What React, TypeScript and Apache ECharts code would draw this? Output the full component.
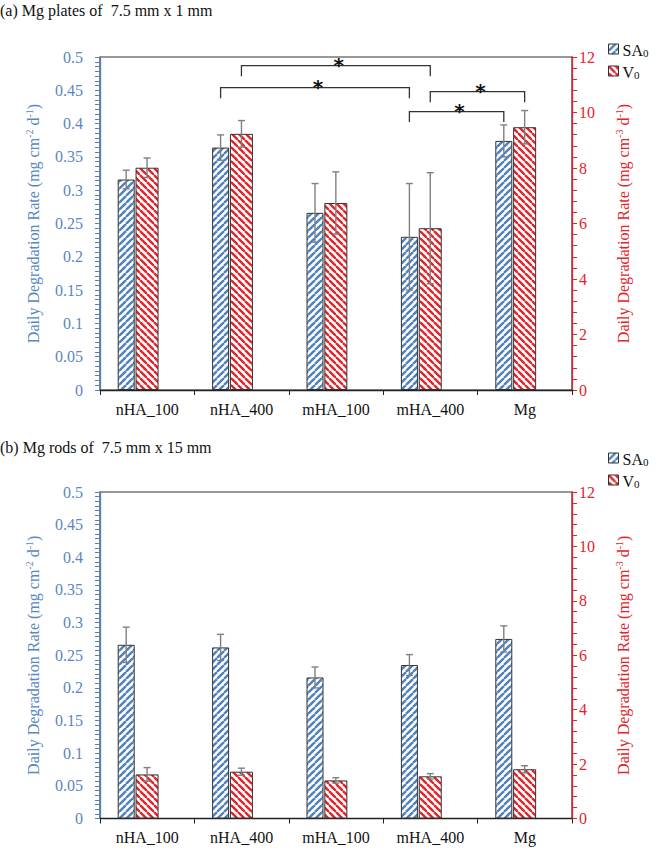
import React, { useEffect, useRef } from "react";
import * as echarts from "echarts";

// ---------- data ----------
const categories = ["nHA_100", "nHA_400", "mHA_100", "mHA_400", "Mg"];

// (a) Mg plates 7.5 mm x 1 mm
const plateSA = [0.316, 0.364, 0.266, 0.23, 0.374];
const plateSAErr = [0.014, 0.019, 0.044, 0.08, 0.024];
const plateV = [8.01, 9.23, 6.74, 5.83, 9.47];
const plateVErr = [0.35, 0.48, 1.12, 2.0, 0.6];

// (b) Mg rods 7.5 mm x 15 mm
const rodSA = [0.266, 0.262, 0.216, 0.235, 0.275];
const rodSAErr = [0.027, 0.02, 0.016, 0.016, 0.02];
const rodV = [1.62, 1.72, 1.4, 1.55, 1.81];
const rodVErr = [0.25, 0.13, 0.1, 0.1, 0.13];

// significance brackets in (a): [fromCategory, fromSeries (0 = SA0, 1 = V0), toCategory, toSeries, level on left axis]
const plateBrackets = [
  [1, 1, 3, 1, 0.487],
  [1, 0, 3, 0, 0.454],
  [3, 1, 4, 1, 0.448],
  [3, 0, 4, 0, 0.418],
];

const titleA = "(a) Mg plates of  7.5 mm x 1 mm";
const titleB = "(b) Mg rods of  7.5 mm x 15 mm";

// ---------- style ----------
const SERIF = "'Liberation Serif', 'Times New Roman', serif";
const BLUE = "#4F81BD";
const BLUE_TEXT = "#5A87C0";
const RED = "#E3242B";
const SA_W = 17;
const V_W = 23;
const GHOST_W = 17;
const GAP = 0.05;
const TOTAL = SA_W * (1 + GAP) + V_W * (1 + GAP) + GHOST_W;
const SA_OFF = -TOTAL / 2 + SA_W / 2;
const V_OFF = -TOTAL / 2 + SA_W * (1 + GAP) + V_W / 2;

function stripe(color: string, dir: number) {
  const s = 7;
  const c = document.createElement("canvas");
  c.width = s;
  c.height = s;
  const ctx = c.getContext("2d")!;
  ctx.fillStyle = "#fff";
  ctx.fillRect(0, 0, s, s);
  ctx.strokeStyle = color;
  ctx.lineWidth = 2.4;
  for (const k of [-s, 0, s]) {
    ctx.beginPath();
    if (dir === 1) {
      ctx.moveTo(k, s);
      ctx.lineTo(k + s, 0);
    } else {
      ctx.moveTo(k, 0);
      ctx.lineTo(k + s, s);
    }
    ctx.stroke();
  }
  return { image: c.toDataURL(), repeat: "repeat", imageWidth: s, imageHeight: s } as any;
}

const nameRich = (color: string) => ({
  color,
  fontSize: 16,
  fontFamily: SERIF,
  rich: {
    a: { color, fontSize: 16, fontFamily: SERIF, lineHeight: 18 },
    sup: { color, fontSize: 10, fontFamily: SERIF, lineHeight: 8, verticalAlign: "top" },
  },
});
const AXIS_NAME_L = "{a|Daily Degradation Rate (mg cm}{sup|-2}{a| d}{sup|-1}{a|)}";
const AXIS_NAME_R = "{a|Daily Degradation Rate (mg cm}{sup|-3}{a| d}{sup|-1}{a|)}";

export default function App() {
  const ref = useRef<HTMLDivElement>(null);
  useEffect(() => {
    if (!ref.current) return;
    const chart = echarts.init(ref.current, null, { renderer: "svg" });
    const bluePat = stripe(BLUE, 1);
    const redPat = stripe(RED, -1);

    const grids = [
      { left: 100, right: 90, top: 57, height: 333 },
      { left: 100, right: 90, top: 492, height: 326.5 },
    ].map((g) => ({ ...g, show: true, borderColor: "#333", borderWidth: 1.2 }));

    const xAxes = [0, 1].map((gi) => ({
      type: "category",
      gridIndex: gi,
      data: categories,
      axisLine: { lineStyle: { color: "#222", width: 1.3 } },
      axisTick: { show: true, length: 5, alignWithLabel: false, lineStyle: { color: "#222" } },
      axisLabel: { color: "#111", fontSize: 16, fontFamily: SERIF, margin: 11 },
    }));

    const leftAxis = (gi: number) => ({
      type: "value",
      gridIndex: gi,
      position: "left",
      min: 0,
      max: 0.5,
      interval: 0.05,
      axisLine: { show: true, lineStyle: { color: BLUE, width: 1.3 } },
      axisTick: { show: true, length: 5, lineStyle: { color: BLUE } },
      minorTick: { show: true, splitNumber: 7, length: 5, lineStyle: { color: BLUE } },
      splitLine: { show: false },
      axisLabel: { color: BLUE_TEXT, fontSize: 16, fontFamily: SERIF, margin: 17 },
      name: AXIS_NAME_L,
      nameLocation: "middle",
      nameRotate: 90,
      nameGap: 58,
      nameTextStyle: nameRich(BLUE_TEXT),
    });
    const rightAxis = (gi: number) => ({
      type: "value",
      gridIndex: gi,
      position: "right",
      min: 0,
      max: 12,
      interval: 2,
      axisLine: { show: true, lineStyle: { color: RED, width: 1.3 } },
      axisTick: { show: true, length: 5, lineStyle: { color: RED } },
      minorTick: { show: true, splitNumber: 5, length: 5, lineStyle: { color: RED } },
      splitLine: { show: false },
      axisLabel: { color: RED, fontSize: 16, fontFamily: SERIF, margin: 7 },
      name: AXIS_NAME_R,
      nameLocation: "middle",
      nameRotate: 90,
      nameGap: 42,
      nameTextStyle: nameRich(RED),
    });

    const barStyle = (pat: any) => ({ color: pat, borderColor: "#333", borderWidth: 1 });

    const errSeries = (xi: number, yi: number, vals: number[], errs: number[], off: number) => ({
      type: "custom",
      xAxisIndex: xi,
      yAxisIndex: yi,
      z: 5,
      silent: true,
      clip: false,
      encode: { x: 0, y: 1 },
      data: vals.map((v, i) => [i, v, errs[i]]),
      renderItem: (params: any, api: any) => {
        const c = api.value(0);
        const v = api.value(1);
        const e = api.value(2);
        const top = api.coord([c, v + e]);
        const bot = api.coord([c, v - e]);
        const x = top[0] + off;
        const st = { stroke: "#808080", lineWidth: 1.4 };
        return {
          type: "group",
          children: [
            { type: "line", shape: { x1: x, y1: top[1], x2: x, y2: bot[1] }, style: st },
            { type: "line", shape: { x1: x - 3.5, y1: top[1], x2: x + 3.5, y2: top[1] }, style: st },
            { type: "line", shape: { x1: x - 3.5, y1: bot[1], x2: x + 3.5, y2: bot[1] }, style: st },
          ],
        };
      },
    });

    const barsFor = (xi: number, yl: number, yr: number, sa: number[], v: number[]) => [
      {
        name: "SA0",
        type: "bar",
        xAxisIndex: xi,
        yAxisIndex: yl,
        barWidth: SA_W,
        barGap: "5%",
        data: sa,
        itemStyle: barStyle(bluePat),
      },
      {
        name: "V0",
        type: "bar",
        xAxisIndex: xi,
        yAxisIndex: yr,
        barWidth: V_W,
        barGap: "5%",
        data: v,
        itemStyle: barStyle(redPat),
      },
      {
        type: "bar",
        xAxisIndex: xi,
        yAxisIndex: yl,
        barWidth: GHOST_W,
        barGap: "5%",
        silent: true,
        data: categories.map(() => null),
      },
    ];

    const legendRich = {
      a: { fontSize: 16, fontFamily: SERIF, color: "#111", lineHeight: 18, verticalAlign: "bottom" },
      s: { fontSize: 11, fontFamily: SERIF, color: "#111", lineHeight: 1, verticalAlign: "bottom" },
    };
    const legend = (top: number) => ({
      orient: "vertical",
      left: 603,
      top,
      itemWidth: 10,
      itemHeight: 10,
      itemGap: 6,
      icon: "rect",
      data: ["SA0", "V0"],
      selectedMode: false,
      formatter: (n: string) => (n === "SA0" ? "{a|SA}{s|0}" : "{a|V}{s|0}"),
      textStyle: { rich: legendRich, fontFamily: SERIF, fontSize: 16, color: "#111", padding: [0, 0, 0, -1] },
      itemStyle: { borderColor: "#333", borderWidth: 1 },
    });

    const option: any = {
      animation: false,
      backgroundColor: "#fff",
      title: [
        { text: titleA, left: 0, top: 2, padding: 0, textStyle: { fontSize: 16, fontWeight: "normal", fontFamily: SERIF, color: "#111" } },
        { text: titleB, left: 0, top: 439, padding: 0, textStyle: { fontSize: 16, fontWeight: "normal", fontFamily: SERIF, color: "#111" } },
      ],
      legend: [legend(37), legend(446)],
      grid: grids,
      xAxis: xAxes,
      yAxis: [leftAxis(0), rightAxis(0), leftAxis(1), rightAxis(1)],
      series: [
        ...barsFor(0, 0, 1, plateSA, plateV),
        ...barsFor(1, 2, 3, rodSA, rodV),
        errSeries(0, 0, plateSA, plateSAErr, SA_OFF),
        errSeries(0, 1, plateV, plateVErr, V_OFF),
        errSeries(1, 2, rodSA, rodSAErr, SA_OFF),
        errSeries(1, 3, rodV, rodVErr, V_OFF),
        {
          type: "custom",
          xAxisIndex: 0,
          yAxisIndex: 0,
          z: 6,
          silent: true,
          clip: false,
          encode: { x: 0, y: 4 },
          data: plateBrackets,
          renderItem: (params: any, api: any) => {
            const c1 = api.value(0);
            const s1 = api.value(1);
            const c2 = api.value(2);
            const s2 = api.value(3);
            const lvl = api.value(4);
            const p1 = api.coord([c1, lvl]);
            const p2 = api.coord([c2, lvl]);
            const x1 = p1[0] + (s1 ? V_OFF : SA_OFF);
            const x2 = p2[0] + (s2 ? V_OFF : SA_OFF);
            const y = p1[1];
            const drop = 10.5;
            return {
              type: "group",
              children: [
                {
                  type: "polyline",
                  shape: { points: [[x1, y + drop], [x1, y], [x2, y], [x2, y + drop]] },
                  style: { stroke: "#333", lineWidth: 1.3, fill: "none" },
                },
                {
                  type: "text",
                  x: (x1 + x2) / 2 + 3,
                  y: y - 1,
                  style: {
                    text: "*",
                    fontSize: 20,
                    fontWeight: "bold",
                    fontFamily: "'DejaVu Sans', sans-serif",
                    fill: "#111",
                    align: "center",
                    verticalAlign: "middle",
                  },
                },
              ],
            };
          },
        },
      ],
    };
    chart.setOption(option);
    return () => chart.dispose();
  }, []);
  return <div ref={ref} style={{ position: "absolute", left: 0, top: 0, width: 662, height: 850 }} />;
}
